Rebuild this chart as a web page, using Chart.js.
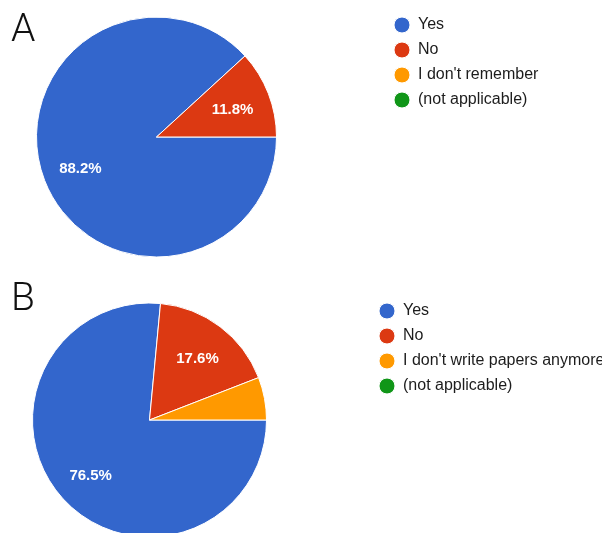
<!DOCTYPE html>
<html>
<head>
<meta charset="utf-8">
<script src="https://cdn.jsdelivr.net/npm/chart.js@4/dist/chart.umd.min.js"></script>
<style>
  html, body { margin: 0; padding: 0; background: #fff; overflow: hidden; }
  body { width: 602px; height: 533px; position: relative; }
  canvas { position: absolute; }
  .panel-tag {
    position: absolute; left: 11px;
    font-family: Roboto, 'Liberation Sans', sans-serif; font-weight: 300;
    font-size: 39px; line-height: 39px; color: #111;
  }
</style>
</head>
<body>
<canvas id="pieA" width="680" height="270" style="top:0; left:-72px"></canvas>
<canvas id="pieB" width="680" height="290" style="top:270px; left:-71px"></canvas>
<div class="panel-tag" style="top:9px">A</div>
<div class="panel-tag" style="top:278px">B</div>

<script>
const colors = ['#3366cc', '#dc3912', '#ff9900', '#109618'];

const labelsA = ['Yes', 'No', "I don't remember", '(not applicable)'];
const valuesA = [88.2, 11.8, 0, 0];

const labelsB = ['Yes', 'No', "I don't write papers anymore", '(not applicable)'];
const valuesB = [76.5, 17.6, 5.9, 0];

const legendFont = { family: '"Liberation Sans", Arial, sans-serif', size: 16 };
const legendPad = 9;
const dotWidth = 16;

// white percentage text inside the bigger slices
const sliceText = {
    id: 'sliceText',
    afterDatasetsDraw(chart) {
        const ctx = chart.ctx;
        const meta = chart.getDatasetMeta(0);
        const data = chart.data.datasets[0].data;
        ctx.save();
        ctx.fillStyle = '#fff';
        ctx.font = 'bold 15px "Liberation Sans", Arial, sans-serif';
        ctx.textAlign = 'center';
        ctx.textBaseline = 'middle';
        meta.data.forEach((arc, i) => {
            if (data[i] < 8) return;
            const p = arc.getProps(['x', 'y', 'startAngle', 'endAngle', 'outerRadius'], true);
            const mid = (p.startAngle + p.endAngle) / 2;
            const r = p.outerRadius * 0.68;
            ctx.fillText(data[i].toFixed(1) + '%', p.x + Math.cos(mid) * r, p.y + Math.sin(mid) * r + 2);
        });
        ctx.restore();
    }
};

// width the right-hand legend will take, so it can be pinned at legendLeft
function legendWidth(labels) {
    const ctx = document.createElement('canvas').getContext('2d');
    ctx.font = legendFont.size + 'px ' + legendFont.family;
    const longest = Math.max(...labels.map(t => ctx.measureText(t).width));
    return legendPad + dotWidth + legendFont.size / 2 + longest + 10;
}

function makePie(id, labels, values, radius, legendLeft, top, bottom) {
    const canvas = document.getElementById(id);
    const right = canvas.width - legendLeft - legendWidth(labels);
    new Chart(canvas, {
        type: 'pie',
        data: {
            labels: labels,
            datasets: [{
                data: values,
                backgroundColor: colors,
                borderColor: '#fff',
                borderWidth: 1,
                radius: radius
            }]
        },
        options: {
            responsive: false,
            animation: false,
            rotation: 90,
            layout: { padding: { left: 0, right: right, top: top, bottom: bottom } },
            plugins: {
                tooltip: { enabled: false },
                legend: {
                    position: 'right',
                    align: 'start',
                    labels: {
                        usePointStyle: true,
                        pointStyle: 'circle',
                        boxHeight: 11.3,
                        pointStyleWidth: dotWidth,
                        padding: legendPad,
                        color: '#1c1c1c',
                        font: legendFont
                    }
                }
            }
        },
        plugins: [sliceText]
    });
}

makePie('pieA', labelsA, valuesA, 120, 457, 8, 4);
makePie('pieB', labelsB, valuesB, 117, 441, 24, 14);
</script>
</body>
</html>
